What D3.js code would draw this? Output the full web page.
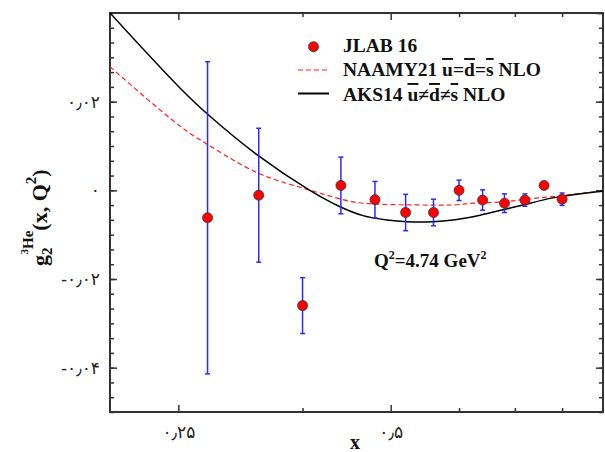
<!DOCTYPE html>
<html><head><meta charset="utf-8">
<script src="https://cdn.jsdelivr.net/npm/d3@7"></script>
<style>body{margin:0;background:#fff}svg{display:block}</style>
</head><body>
<script>
// ---- data ----
const jlabX = [0.275,0.325,0.375,0.425,0.475,0.525,0.575,0.625,0.675,0.725,0.775,0.825,0.875];
const jlabY = [-0.0062,-0.0011,-0.0260,0.0011,-0.0021,-0.0050,-0.0050,0.0000,-0.0022,-0.0029,-0.0022,0.0011,-0.0020];
const jlabErr = [0.0352,0.0151,0.0063,0.0064,0.0041,0.0041,0.0030,0.0023,0.0023,0.0021,0.0014,0.0008,0.0014];

const aksX = [0.2,0.2513,0.2772,0.3253,0.383,0.4238,0.4568,0.494,0.5274,0.574,0.6128,0.6693,0.7214,0.770,0.8494,0.9807,1.0];
const aksY = [0.0400,0.0231,0.0167,0.0077,0.0001,-0.0037,-0.0057,-0.0067,-0.0071,-0.0071,-0.0067,-0.0056,-0.0044,-0.0033,-0.0017,-0.0003,-0.0002];

const naamyX = [0.2,0.2513,0.2772,0.3253,0.383,0.4422,0.4782,0.5502,0.6128,0.6542,0.7214,0.780,0.8494,0.9807,1.0];
const naamyY = [0.0279,0.0145,0.0100,0.0038,0.0001,-0.0026,-0.0031,-0.0033,-0.0033,-0.0029,-0.0026,-0.0020,-0.0014,-0.0003,-0.0002];

const xMajor = [0.25,0.5];
const xMajorLabels = ["۰٫۲۵","۰٫۵"];
const xMinor = [0.375,0.625,0.75,0.875];
const yMajor = [-0.04,-0.02,0,0.02];
const yMajorLabels = ["-۰٫۰۴","-۰٫۰۲","۰","۰٫۰۲"];
const yMinor = d3.range(-0.05,0.04001,0.02/6);

// ---- layout ----
const W=605,H=452;
const L=110,T=13,R=603,B=412;
const svg=d3.select("body").append("svg").attr("width",W).attr("height",H);
const x=d3.scaleLog().domain([0.2,1.0]).range([L,R]);
const y=d3.scaleLinear().domain([-0.05,0.04]).range([B,T]);

svg.append("defs").append("clipPath").attr("id","clip")
  .append("rect").attr("x",L).attr("y",T).attr("width",R-L).attr("height",B-T);

const tickFont="DejaVu Sans";
function styleAxis(g){g.select(".domain").remove();g.selectAll(".tick line").attr("stroke","#333").attr("stroke-width",1.5);
  g.selectAll("text").attr("font-family",tickFont).attr("font-size",17).attr("fill","#222");}

// bottom
svg.append("g").attr("transform",`translate(0,${B})`)
  .call(d3.axisBottom(x).tickValues(xMajor).tickSize(-7).tickPadding(14).tickFormat((d,i)=>xMajorLabels[i])).call(styleAxis);
svg.append("g").attr("transform",`translate(0,${B})`)
  .call(d3.axisBottom(x).tickValues(xMinor).tickSize(-4).tickFormat("")).call(styleAxis);
// top
svg.append("g").attr("transform",`translate(0,${T})`)
  .call(d3.axisTop(x).tickValues(xMajor).tickSize(-7).tickFormat("")).call(styleAxis);
svg.append("g").attr("transform",`translate(0,${T})`)
  .call(d3.axisTop(x).tickValues(xMinor).tickSize(-4).tickFormat("")).call(styleAxis);
// left
svg.append("g").attr("transform",`translate(${L},0)`)
  .call(d3.axisLeft(y).tickValues(yMajor).tickSize(-7).tickPadding(10).tickFormat((d,i)=>yMajorLabels[i])).call(styleAxis);
svg.append("g").attr("transform",`translate(${L},0)`)
  .call(d3.axisLeft(y).tickValues(yMinor).tickSize(-4).tickFormat("")).call(styleAxis);
// right
svg.append("g").attr("transform",`translate(${R},0)`)
  .call(d3.axisRight(y).tickValues(yMajor.concat([0.04])).tickSize(-7).tickFormat("")).call(styleAxis);
svg.append("g").attr("transform",`translate(${R},0)`)
  .call(d3.axisRight(y).tickValues(yMinor).tickSize(-4).tickFormat("")).call(styleAxis);

// frame
svg.append("rect").attr("x",L).attr("y",T).attr("width",R-L).attr("height",B-T)
  .attr("fill","none").attr("stroke","#333").attr("stroke-width",2);

// curves
const line=d3.line().x(d=>x(d[0])).y(d=>y(d[1])).curve(d3.curveCatmullRom.alpha(0.5));
const plot=svg.append("g").attr("clip-path","url(#clip)");
plot.append("path").datum(naamyX.map((v,i)=>[v,naamyY[i]])).attr("d",line)
  .attr("fill","none").attr("stroke","#ff2020").attr("stroke-width",1.2).attr("stroke-dasharray","5,3");
plot.append("path").datum(aksX.map((v,i)=>[v,aksY[i]])).attr("d",line)
  .attr("fill","none").attr("stroke","#000").attr("stroke-width",1.5);

// error bars
const pts=jlabX.map((v,i)=>({x:v,y:jlabY[i],e:jlabErr[i]}));
const eb=svg.append("g").attr("stroke","#2a2aff").attr("stroke-width",1.5);
pts.forEach(p=>{
  const cx=x(p.x),y1=y(p.y+p.e),y2=y(p.y-p.e);
  eb.append("line").attr("x1",cx).attr("x2",cx).attr("y1",y1).attr("y2",y2);
  eb.append("line").attr("x1",cx-2.5).attr("x2",cx+2.5).attr("y1",y1).attr("y2",y1);
  eb.append("line").attr("x1",cx-2.5).attr("x2",cx+2.5).attr("y1",y2).attr("y2",y2);
});
svg.append("g").selectAll("circle").data(pts).join("circle")
  .attr("cx",d=>x(d.x)).attr("cy",d=>y(d.y)).attr("r",5)
  .attr("fill","#ff0000").attr("stroke","#333").attr("stroke-width",0.8);

// legend
const serif="'Liberation Serif','Times New Roman',serif";
const lg=svg.append("g").attr("font-family",serif).attr("font-weight","bold").attr("font-size",19.5).attr("fill","#111");
lg.append("circle").attr("cx",313.5).attr("cy",46.7).attr("r",5).attr("fill","#ff0000").attr("stroke","#333").attr("stroke-width",0.8);
lg.append("text").attr("x",343).attr("y",52).text("JLAB 16");
lg.append("line").attr("x1",298).attr("x2",329).attr("y1",70).attr("y2",70).attr("stroke","#ff2020").attr("stroke-width",1.2).attr("stroke-dasharray","5,3");
lg.append("line").attr("x1",298).attr("x2",329).attr("y1",93.5).attr("y2",93.5).attr("stroke","#000").attr("stroke-width",2);
function legText(yy,parts){
  const t=lg.append("text").attr("x",343).attr("y",yy);
  parts.forEach(p=>{const s=t.append("tspan").text(p[0]); if(p[1]) s.style("text-decoration","overline");});
}
legText(76,[["NAAMY21 "],["u",1],["="],["d",1],["="],["s",1],[" NLO"]]);
legText(101,[["AKS14 "],["u",1],["≠"],["d",1],["≠"],["s",1],[" NLO"]]);

// Q2 annotation
const q=svg.append("text").attr("x",374).attr("y",267).attr("font-family",serif).attr("font-weight","bold").attr("font-size",19).attr("fill","#111");
q.append("tspan").text("Q");
q.append("tspan").attr("font-size",12).attr("dy",-8).text("2");
q.append("tspan").attr("dy",8).text("=4.74 GeV");
q.append("tspan").attr("font-size",12).attr("dy",-8).text("2");

// axis titles
svg.append("text").attr("x",355).attr("y",449).attr("text-anchor","middle").attr("font-family",serif)
  .attr("font-weight","bold").attr("font-size",20).attr("fill","#111").text("x");
const yl=svg.append("text").attr("transform","translate(47,266) rotate(-90)").attr("font-family",serif)
  .attr("font-weight","bold").attr("font-size",22).attr("fill","#111");
yl.append("tspan").text("g");
yl.append("tspan").attr("font-size",15).attr("dy",5).text("2");
yl.append("tspan").attr("font-size",11).attr("dx",-7).attr("dy",-24).text("3");
yl.append("tspan").attr("font-size",15).attr("dy",5).text("He");
yl.append("tspan").attr("dy",14).text("(x, Q");
yl.append("tspan").attr("font-size",15).attr("dy",-11).text("2");
yl.append("tspan").attr("dy",11).text(")");
</script>
</body></html>
